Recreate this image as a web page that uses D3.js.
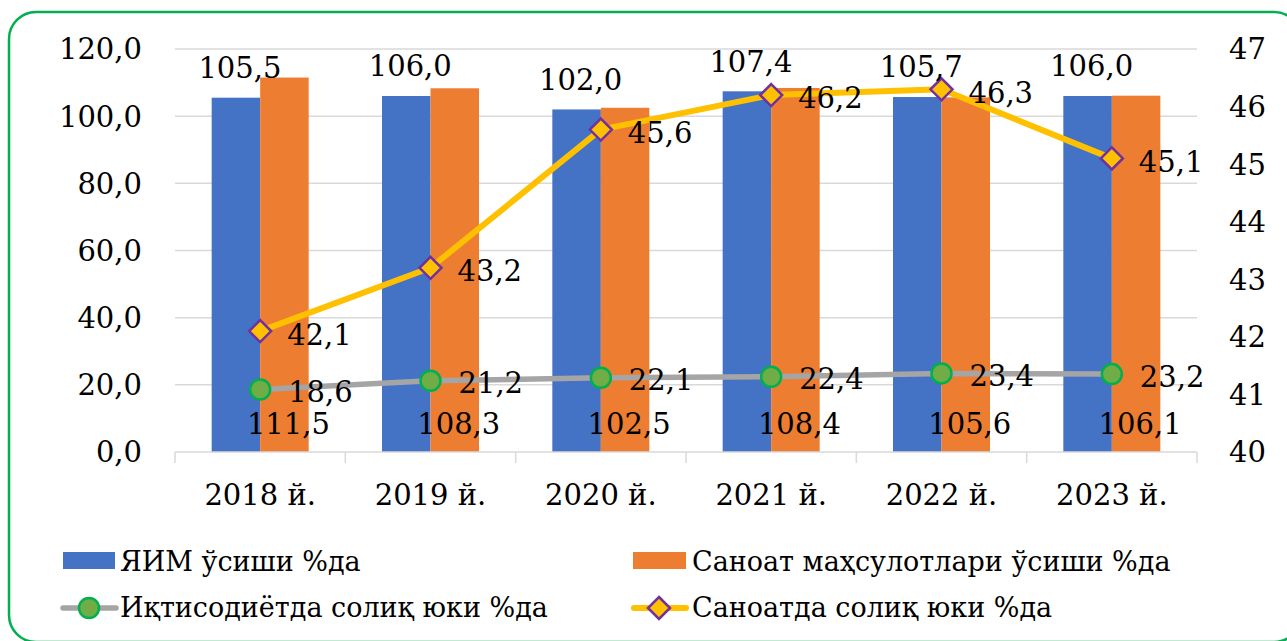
<!DOCTYPE html>
<html>
<head>
<meta charset="utf-8">
<script src="https://cdn.jsdelivr.net/npm/d3@7"></script>
<style>
  body { margin: 0; background: #fff; }
  svg { display: block; }
  text { font-family: "DejaVu Serif", serif; fill: #000; }
</style>
</head>
<body>
<svg id="chart"></svg>
<script>
var categories = ["2018 й.", "2019 й.", "2020 й.", "2021 й.", "2022 й.", "2023 й."];
var gdpGrowth = [105.5, 106.0, 102.0, 107.4, 105.7, 106.0];
var industryGrowth = [111.5, 108.3, 102.5, 108.4, 105.6, 106.1];
var economyTax = [18.6, 21.2, 22.1, 22.4, 23.4, 23.2];
var industryTax = [42.1, 43.2, 45.6, 46.2, 46.3, 45.1];
var leftTicks = [0, 20, 40, 60, 80, 100, 120];
var rightTicks = [40, 41, 42, 43, 44, 45, 46, 47];
var seriesNames = ["ЯИМ ўсиши %да", "Саноат маҳсулотлари ўсиши %да", "Иқтисодиётда солиқ юки %да", "Саноатда солиқ юки %да"];

var width = 1287, height = 641;
var svg = d3.select("#chart").attr("width", width).attr("height", height);

var fmt = function (v) { return d3.format(".1f")(v).replace(".", ","); };
var fs = "29px";

// frame
svg.append("rect")
  .attr("x", 9).attr("y", 12)
  .attr("width", 1292).attr("height", 630)
  .attr("rx", 27).attr("ry", 27)
  .attr("fill", "none")
  .attr("stroke", "#00B050")
  .attr("stroke-width", 2.5);

var x = d3.scaleBand().domain(categories).range([175, 1197]).padding(0);
var y = d3.scaleLinear().domain([0, 120]).range([452, 49]);
var y2 = d3.scaleLinear().domain([40, 47]).range([452, 49]);
var barW = 48.5;
var cx = function (i) { return x(categories[i]) + x.bandwidth() / 2; };

// gridlines
svg.append("g").selectAll("line")
  .data(leftTicks.filter(function (d) { return d > 0; }))
  .enter().append("line")
  .attr("x1", 175).attr("x2", 1197)
  .attr("y1", function (d) { return y(d); })
  .attr("y2", function (d) { return y(d); })
  .attr("stroke", "#D9D9D9").attr("stroke-width", 1.5);

// left axis labels
svg.append("g").selectAll("text")
  .data(leftTicks).enter().append("text")
  .attr("x", 142).attr("y", function (d) { return y(d); })
  .attr("dy", "0.36em")
  .attr("text-anchor", "end")
  .style("font-size", fs)
  .text(fmt);

// right axis labels
svg.append("g").selectAll("text")
  .data(rightTicks).enter().append("text")
  .attr("x", 1229).attr("y", function (d) { return y2(d); })
  .attr("dy", "0.36em")
  .style("font-size", fs)
  .text(function (d) { return d; });

// bars
svg.append("g").selectAll("rect")
  .data(gdpGrowth).enter().append("rect")
  .attr("x", function (d, i) { return cx(i) - barW; })
  .attr("y", function (d) { return y(d); })
  .attr("width", barW)
  .attr("height", function (d) { return y(0) - y(d); })
  .attr("fill", "#4472C4");

svg.append("g").selectAll("rect")
  .data(industryGrowth).enter().append("rect")
  .attr("x", function (d, i) { return cx(i); })
  .attr("y", function (d) { return y(d); })
  .attr("width", barW)
  .attr("height", function (d) { return y(0) - y(d); })
  .attr("fill", "#ED7D31");

// x axis
var xAxis = svg.append("g");
xAxis.append("line")
  .attr("x1", 175).attr("x2", 1197).attr("y1", 452).attr("y2", 452)
  .attr("stroke", "#D9D9D9").attr("stroke-width", 1.5);
xAxis.selectAll(".tick")
  .data(d3.range(categories.length + 1)).enter().append("line")
  .attr("x1", function (i) { return 175 + i * x.bandwidth(); })
  .attr("x2", function (i) { return 175 + i * x.bandwidth(); })
  .attr("y1", 452).attr("y2", 463)
  .attr("stroke", "#D9D9D9").attr("stroke-width", 1.5);
xAxis.selectAll("text")
  .data(categories).enter().append("text")
  .attr("x", function (d, i) { return cx(i); })
  .attr("y", 495).attr("dy", "0.36em")
  .attr("text-anchor", "middle")
  .style("font-size", fs)
  .text(function (d) { return d; });

// lines
var line1 = d3.line().x(function (d, i) { return cx(i); }).y(function (d) { return y(d); });
var line2 = d3.line().x(function (d, i) { return cx(i); }).y(function (d) { return y2(d); });

svg.append("path").datum(economyTax)
  .attr("d", line1).attr("fill", "none")
  .attr("stroke", "#A5A5A5").attr("stroke-width", 5.5)
  .attr("stroke-linejoin", "round");

svg.append("path").datum(industryTax)
  .attr("d", line2).attr("fill", "none")
  .attr("stroke", "#FFC000").attr("stroke-width", 6)
  .attr("stroke-linejoin", "round");

var diamond = function (px, py, r) {
  return "M" + px + "," + (py - r) + "L" + (px + r) + "," + py + "L" + px + "," + (py + r) + "L" + (px - r) + "," + py + "Z";
};

svg.append("g").selectAll("circle")
  .data(economyTax).enter().append("circle")
  .attr("cx", function (d, i) { return cx(i); })
  .attr("cy", function (d) { return y(d); })
  .attr("r", 10)
  .attr("fill", "#70AD47").attr("stroke", "#00B050").attr("stroke-width", 2.5);

svg.append("g").selectAll("path")
  .data(industryTax).enter().append("path")
  .attr("d", function (d, i) { return diamond(cx(i), y2(d), 11); })
  .attr("fill", "#FFC000").attr("stroke", "#7030A0").attr("stroke-width", 2.5);

// data labels
svg.append("g").selectAll("text")
  .data(gdpGrowth).enter().append("text")
  .attr("x", function (d, i) { return cx(i) - barW / 2 + 4; })
  .attr("y", function (d) { return y(d) - 30; })
  .attr("dy", "0.36em").attr("text-anchor", "middle")
  .style("font-size", fs)
  .text(fmt);

svg.append("g").selectAll("text")
  .data(industryGrowth).enter().append("text")
  .attr("x", function (d, i) { return cx(i) + barW / 2 + 4; })
  .attr("y", 424)
  .attr("dy", "0.36em").attr("text-anchor", "middle")
  .style("font-size", fs)
  .text(fmt);

svg.append("g").selectAll("text")
  .data(economyTax).enter().append("text")
  .attr("x", function (d, i) { return cx(i) + 28; })
  .attr("y", function (d) { return y(d) + 2; })
  .attr("dy", "0.36em")
  .style("font-size", fs)
  .text(fmt);

svg.append("g").selectAll("text")
  .data(industryTax).enter().append("text")
  .attr("x", function (d, i) { return cx(i) + 27; })
  .attr("y", function (d) { return y2(d) + 3; })
  .attr("dy", "0.36em")
  .style("font-size", fs)
  .text(fmt);

// legend
var legend = svg.append("g");
legend.append("rect").attr("x", 63).attr("y", 552).attr("width", 52).attr("height", 17).attr("fill", "#4472C4");
legend.append("rect").attr("x", 633).attr("y", 552).attr("width", 53).attr("height", 17).attr("fill", "#ED7D31");

legend.append("line").attr("x1", 63).attr("x2", 116).attr("y1", 608).attr("y2", 608)
  .attr("stroke", "#A5A5A5").attr("stroke-width", 5.5).attr("stroke-linecap", "round");
legend.append("circle").attr("cx", 89).attr("cy", 608).attr("r", 10)
  .attr("fill", "#70AD47").attr("stroke", "#00B050").attr("stroke-width", 2.5);

legend.append("line").attr("x1", 634).attr("x2", 686).attr("y1", 608).attr("y2", 608)
  .attr("stroke", "#FFC000").attr("stroke-width", 6).attr("stroke-linecap", "round");
legend.append("path").attr("d", diamond(659, 608, 11))
  .attr("fill", "#FFC000").attr("stroke", "#7030A0").attr("stroke-width", 2.5);

var legendPos = [[120, 571], [692, 571], [120, 617], [692, 617]];
legend.selectAll("text")
  .data(seriesNames).enter().append("text")
  .attr("x", function (d, i) { return legendPos[i][0]; })
  .attr("y", function (d, i) { return legendPos[i][1]; })
  .style("font-size", "27px")
  .text(function (d) { return d; });
</script>
</body>
</html>
